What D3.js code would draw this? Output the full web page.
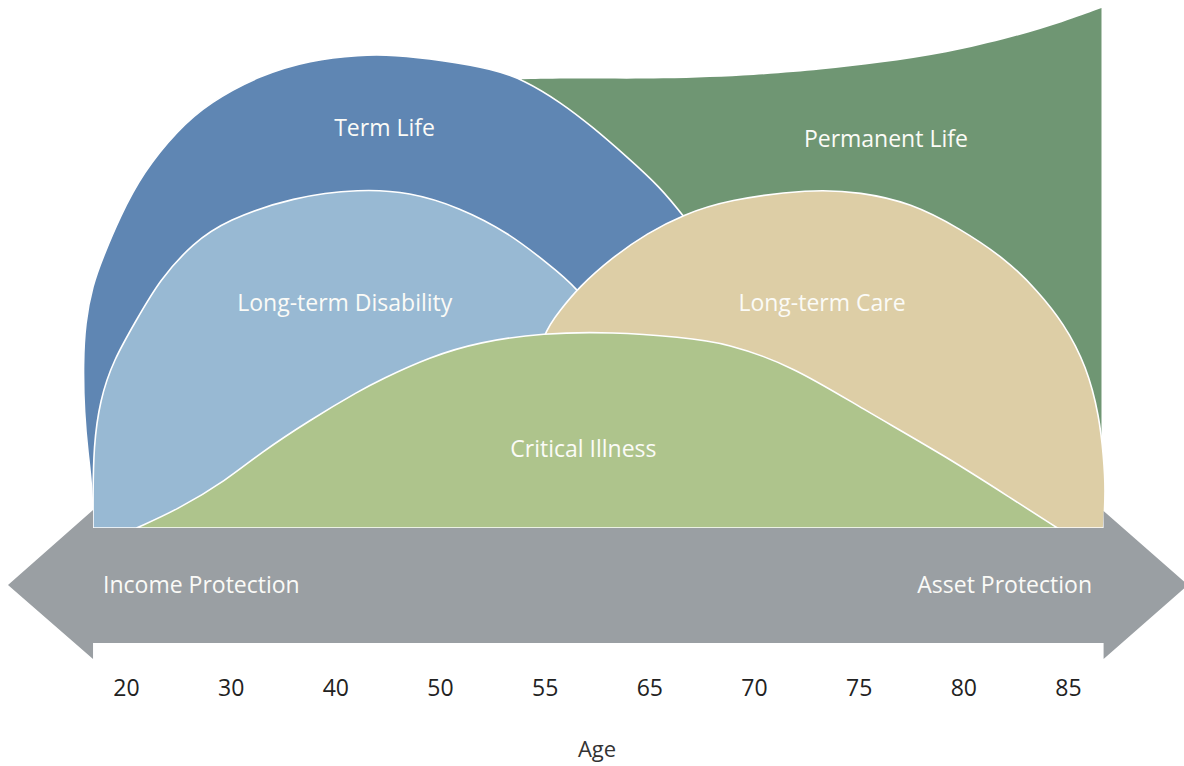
<!DOCTYPE html>
<html>
<head>
<meta charset="utf-8">
<script src="https://cdn.jsdelivr.net/npm/d3@7"></script>
<style>
  html, body { margin: 0; padding: 0; background: #fff; }
  svg { display: block; font-family: "Open Sans", "Noto Sans", sans-serif; }
</style>
</head>
<body>
<div id="chart"></div>
<script>
// Insurance needs across life stages: overlapping coverage shapes on an age axis.

const ageTicks = [20, 30, 40, 50, 55, 65, 70, 75, 80, 85];

// outlines as [age, coverage level 0-100]
const permanentLife = [[53.9, 86.3], [58.4, 86.5], [65.5, 86.3], [70.3, 87.1], [73.2, 88.1],
  [76.0, 89.4], [79.2, 91.3], [82.4, 94.4], [84.8, 97.3], [86.6, 100]];

const termLife = [[16.9, 0], [16.7, 9.2], [16.4, 13.7], [16.0, 22.1], [15.9, 31.7], [16.1, 39.4],
  [16.8, 46.7], [17.8, 52.1], [19.4, 59.8], [21.6, 68.3], [24.9, 76.5], [28.0, 81.9], [32.8, 87.1],
  [37.6, 90.0], [42.4, 91.0], [45.5, 91.0], [50.1, 90.0], [52.5, 88.3], [54.0, 86.2], [56.5, 81.9],
  [59.6, 77.1], [62.9, 71.3], [65.5, 65.6], [66.6, 60.2], [68.4, 50.6], [69.8, 38.1], [70.8, 20.8], [71.2, 0]];

const disability = [[16.85, 0], [16.85, 6.0], [16.9, 15.6], [17.5, 24.6], [18.8, 32.3], [21.0, 40.0],
  [23.2, 47.7], [26.4, 54.8], [29.6, 59.2], [36.0, 63.7], [42.4, 65.2], [47.1, 64.6], [50.9, 61.7],
  [53.3, 56.7], [55.2, 51.0], [58.2, 46.2], [60.8, 38.1], [62.7, 24.6], [63.6, 0]];

const longTermCare = [[54.3, 0], [54.5, 28.5], [54.9, 37.5], [56.5, 41.9], [58.2, 46.2], [61.5, 52.1],
  [64.8, 56.7], [66.6, 60.2], [68.7, 63.1], [72.7, 65.2], [75.1, 64.6], [77.5, 62.5], [79.8, 57.7],
  [82.1, 51.5], [83.5, 45.8], [84.8, 39.4], [85.9, 31.0], [86.5, 21.4], [86.7, 13.7], [86.8, 7.3], [86.7, 0]];

const criticalIllness = [[21.0, 0], [24.9, 3.5], [29.6, 9.2], [32.8, 14.4], [37.6, 20.8], [42.4, 26.5],
  [44.3, 28.5], [49.0, 32.9], [51.9, 35.8], [54.9, 37.5], [61.5, 37.7], [66.5, 36.7], [68.7, 35.6],
  [71.9, 31.0], [75.1, 23.1], [79.2, 13.7], [82.4, 5.4], [84.5, 0]];

const shapeNames = ["Permanent Life", "Term Life", "Long-term Disability", "Long-term Care", "Critical Illness"];
const shapeColors = ["#6f9673", "#5f86b3", "#98b9d3", "#ddcea6", "#aec48c"];
// label anchors [age, level]
const labelAnchors = [[76.3, 74.8], [44.7, 76.9], [40.9, 43.3], [73.25, 43.3], [58.7, 15.2]];

const W = 1184, H = 766;
const svg = d3.select("#chart").append("svg").attr("width", W).attr("height", H);

const x = d3.scaleLinear().domain(ageTicks)
  .range(ageTicks.map((d, i) => 126 + i * (1068 - 126) / (ageTicks.length - 1)));
const y = d3.scaleLinear().domain([0, 100]).range([528, 8]);

const curve = d3.curveBasis;
const outline = d3.line().x(d => x(d[0])).y(d => y(d[1])).curve(curve);
const area = d3.area().x(d => x(d[0])).y0(y(0)).y1(d => y(d[1])).curve(curve);

const gShapes = svg.append("g");
// back to front
gShapes.append("path").attr("d", area(permanentLife)).attr("fill", shapeColors[0]);
[termLife, disability, longTermCare].forEach((pts, i) => {
  gShapes.append("path").attr("d", outline(pts) + "Z")
    .attr("fill", shapeColors[i + 1]).attr("stroke", "#fff").attr("stroke-width", 1.6);
});
gShapes.append("path").attr("d", area(criticalIllness))
  .attr("fill", shapeColors[4]).attr("stroke", "#fff").attr("stroke-width", 1.6);

// double-headed arrow band
const bandL = x(16.85), bandR = x(86.7), bandTop = y(0), bandBot = 643, bandMid = 585;
const arrow = [[8, bandMid], [bandL, 510], [bandL, bandTop], [bandR, bandTop], [bandR, 511], [1188, bandMid],
  [bandR, 659], [bandR, bandBot], [bandL, bandBot], [bandL, 659]];
svg.append("path").attr("d", d3.line()(arrow) + "Z").attr("fill", "#9a9fa3");

svg.append("text").attr("x", 103).attr("y", bandMid).attr("dy", "0.36em")
  .attr("fill", "#fafaf7").attr("font-size", 23).text("Income Protection");
svg.append("text").attr("x", 1092).attr("y", bandMid).attr("dy", "0.36em").attr("text-anchor", "end")
  .attr("fill", "#fafaf7").attr("font-size", 23).text("Asset Protection");

// shape labels
svg.append("g").selectAll("text").data(shapeNames).join("text")
  .attr("x", (d, i) => x(labelAnchors[i][0]))
  .attr("y", (d, i) => y(labelAnchors[i][1]))
  .attr("dy", "0.36em").attr("text-anchor", "middle")
  .attr("fill", "#fbfbf7").attr("font-size", 23)
  .text(d => d);

// age axis
const gx = svg.append("g").attr("transform", "translate(0,672)")
  .call(d3.axisBottom(x).tickValues(ageTicks).tickFormat(d3.format("d")).tickSize(0).tickPadding(8));
gx.select(".domain").remove();
gx.selectAll("text").attr("font-size", 23).attr("font-family", "'Open Sans', sans-serif").attr("fill", "#222");

svg.append("text").attr("x", 597).attr("y", 757).attr("text-anchor", "middle")
  .attr("font-size", 22).attr("fill", "#333").text("Age");
</script>
</body>
</html>
